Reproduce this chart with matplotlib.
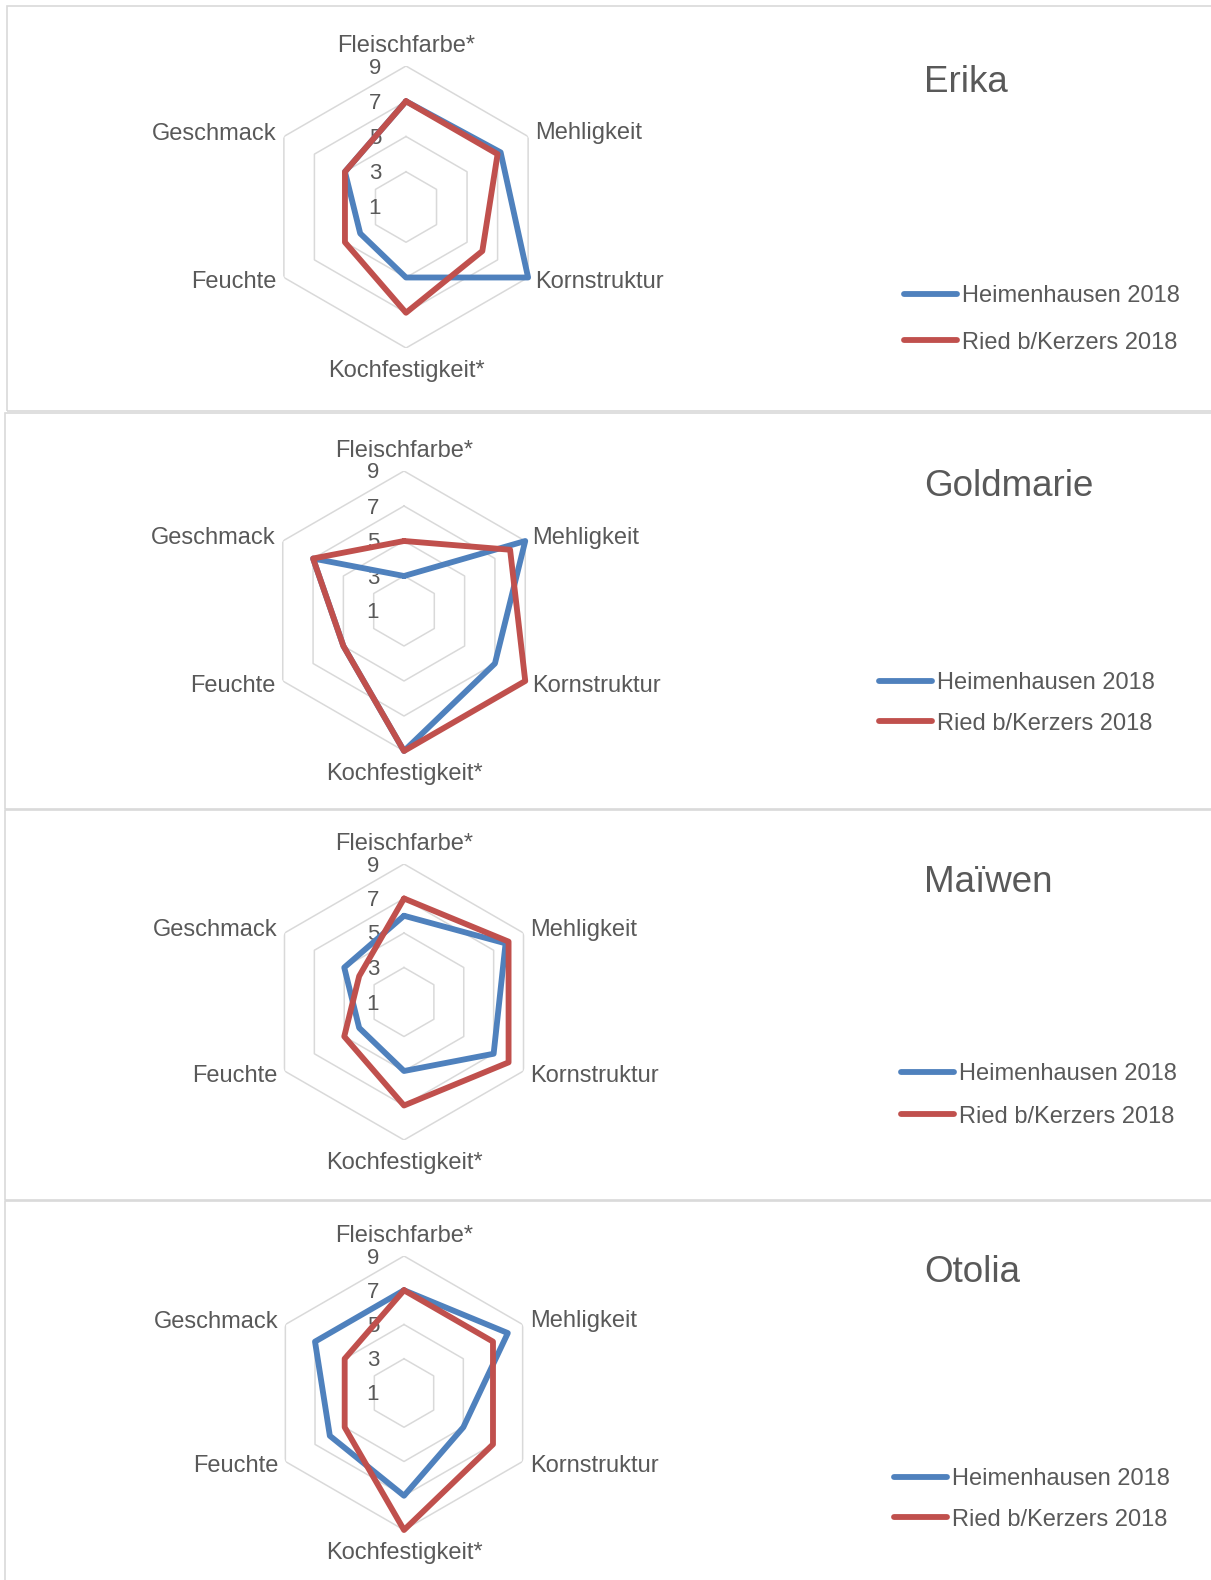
import numpy as np
import matplotlib
matplotlib.use('Agg')
import matplotlib.pyplot as plt
from matplotlib.patches import Rectangle
from matplotlib.transforms import offset_copy

plt.rcParams['font.family'] = ['Liberation Sans', 'DejaVu Sans']

# data
criteria = ['Fleischfarbe*', 'Mehligkeit', 'Kornstruktur', 'Kochfestigkeit*', 'Feuchte', 'Geschmack']
varieties = ['Erika', 'Goldmarie', 'Maïwen', 'Otolia']
series_names = ['Heimenhausen 2018', 'Ried b/Kerzers 2018']
heimenhausen = [
    [7, 7.2, 9, 5, 4, 5],
    [3, 9, 7, 9, 5, 7],
    [6, 7.8, 7, 5, 4, 5],
    [7, 8, 5, 7, 6, 7],
]
ried = [
    [7, 7, 6, 7, 5, 5],
    [5, 8, 9, 9, 5, 7],
    [7, 8, 8, 7, 5, 4],
    [7, 7, 7, 9, 5, 5],
]
r_ticks = [1, 3, 5, 7, 9]

# layout (pixels, top-left origin)
W, H = 1211, 1580
panel_box = [(7, 6, 411), (5, 413, 809), (5, 810, 1200), (5, 1201, 1590)]
centers = [(406, 207, 141), (404, 611, 140), (404, 1002, 138), (404, 1393, 137)]
title_y = [82, 487, 883, 1272]
legend_x = [904, 879, 901, 894]
legend_rows = [(294, 341), (681, 722), (1072, 1115), (1477, 1518)]

BLUE = '#4F81BD'
RED = '#C0504D'
GRID = '#D9D9D9'
TXT = '#595959'

fig = plt.figure(figsize=(W / 100, H / 100), dpi=100)

for i, (x0, top, bottom) in enumerate(panel_box):
    fig.add_artist(Rectangle((x0 / W, 1 - bottom / H), (W + 20 - x0) / W, (bottom - top) / H,
                             transform=fig.transFigure, fill=False, edgecolor=GRID, lw=1.2))

angles = np.arange(len(criteria)) * 2 * np.pi / len(criteria)
closed = np.append(angles, angles[0])

label_offsets = [(0, 20, 'center'), (7, 3, 'left'), (7, -5, 'left'),
                 (0, -23, 'center'), (-7, -5, 'right'), (-7, 3, 'right')]

for k, name in enumerate(varieties):
    cx, cy, R = centers[k]
    ax = fig.add_axes([(cx - R) / W, 1 - (cy + R) / H, 2 * R / W, 2 * R / H], projection='polar')
    ax.set_theta_zero_location('N')
    ax.set_theta_direction(-1)
    ax.set_rlim(1, 9)
    ax.set_xticks([])
    ax.set_yticks([])
    ax.grid(False)
    ax.spines['polar'].set_visible(False)
    ax.patch.set_visible(False)

    for r in r_ticks[1:]:
        ax.plot(closed, [r] * len(closed), color=GRID, lw=1.1, zorder=1)

    b = ax.plot(closed, heimenhausen[k] + heimenhausen[k][:1], color=BLUE, lw=4.2,
                solid_capstyle='round', zorder=3, clip_on=False)[0]
    rd = ax.plot(closed, ried[k] + ried[k][:1], color=RED, lw=4.2,
                 solid_capstyle='round', zorder=4, clip_on=False)[0]

    for r in r_ticks:
        ax.text(0, r, str(r), fontsize=16, color=TXT, ha='center', va='center',
                transform=offset_copy(ax.transData, fig=fig, x=-31, y=-2, units='dots'), zorder=2)

    for a, lab, (dx, dy, ha) in zip(angles, criteria, label_offsets):
        ax.text(a, 9, lab, fontsize=17, color=TXT, ha=ha, va='center',
                transform=offset_copy(ax.transData, fig=fig, x=dx, y=dy, units='dots'))

    fig.text(924 / W, 1 - title_y[k] / H, name, fontsize=26.5, color=TXT, ha='left', va='center')

    y1, y2 = legend_rows[k]
    spacing = ((y2 - y1) - 23) / 23.6
    ax.legend([b, rd], series_names, loc='center left',
              bbox_to_anchor=(legend_x[k] / W, 1 - (y1 + y2 + 4) / 2 / H),
              bbox_transform=fig.transFigure, frameon=False, borderpad=0, borderaxespad=0,
              handlelength=2.24, handletextpad=0.2, labelspacing=spacing,
              fontsize=17, labelcolor=TXT)

fig.savefig('out.png', dpi=100)
